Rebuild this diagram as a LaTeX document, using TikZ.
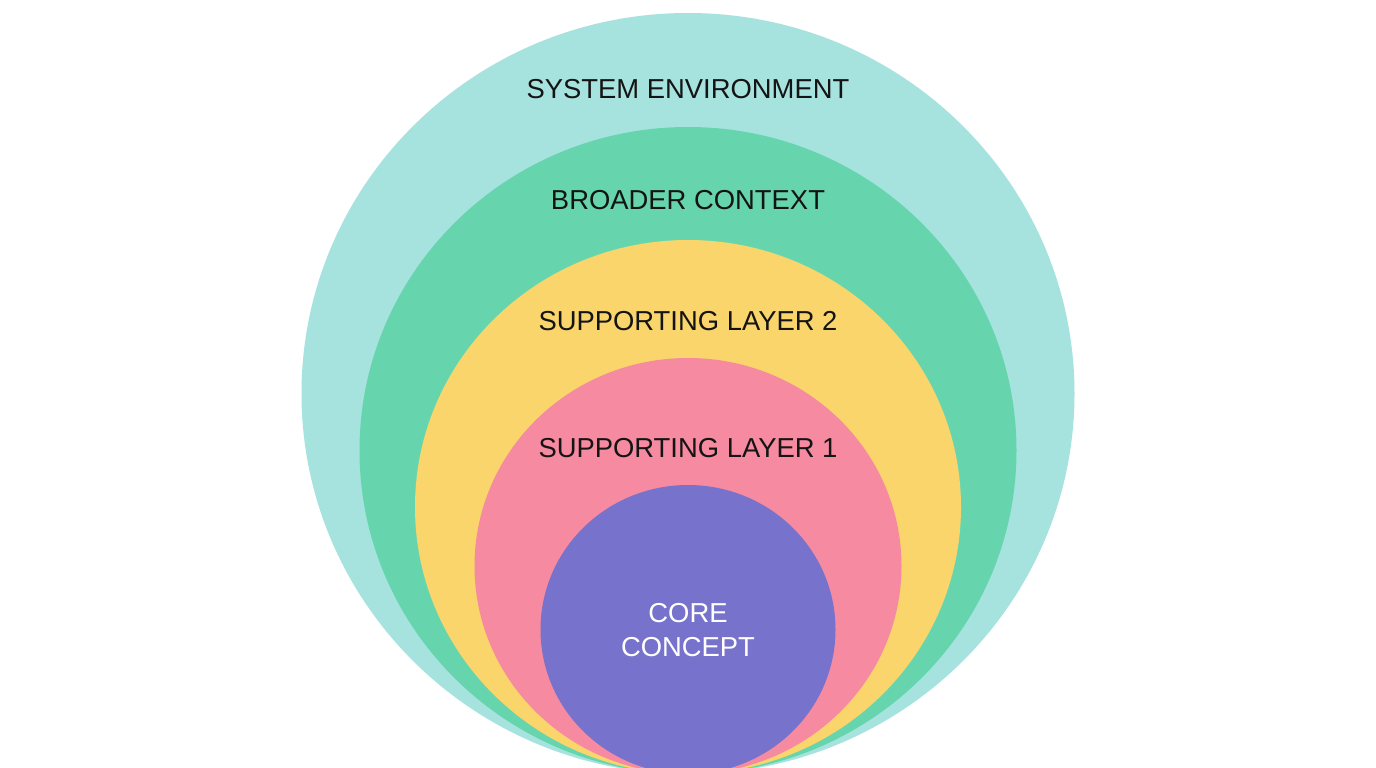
\documentclass[tikz,border=0pt]{standalone}
\usepackage{fontspec}
\setmainfont{Liberation Sans}
\begin{document}
\begin{tikzpicture}[x=1pt,y=-1pt,
  lbl/.style={anchor=base,inner sep=0pt,font=\fontsize{27.4}{33}\selectfont,text=black!92},
  ring/.style={draw=none}]
\clip (0,0) rectangle (1376,768);
\fill[white] (0,0) rectangle (1376,768);
\definecolor{cOuter}{HTML}{A6E3DF}
\definecolor{cBroad}{HTML}{66D5AE}
\definecolor{cSup2}{HTML}{F9D56C}
\definecolor{cSup1}{HTML}{F68AA1}
\definecolor{cCore}{HTML}{7773CC}
\fill[cOuter] (688,393.5) ellipse [x radius=386.5pt, y radius=380.5pt];
\fill[cBroad] (688,450.5) ellipse [x radius=328.5pt, y radius=323.5pt];
\fill[cSup2] (688,507) ellipse [x radius=273pt, y radius=267pt];
\fill[cSup1] (688,566) ellipse [x radius=213.5pt, y radius=208pt];
\fill[cCore] (688,629.5) ellipse [x radius=147.5pt, y radius=144.5pt];
\node[lbl] (sys) at (688,98) {SYSTEM ENVIRONMENT};
\node[lbl] (broad) at (688,209) {BROADER CONTEXT};
\node[lbl] (sup2) at (688,330) {SUPPORTING LAYER 2};
\node[lbl] (sup1) at (688,457) {SUPPORTING LAYER 1};
\node[lbl,text=white] (core1) at (688,622) {CORE};
\node[lbl,text=white] (core2) at (688,656) {CONCEPT};
\end{tikzpicture}
\end{document}
